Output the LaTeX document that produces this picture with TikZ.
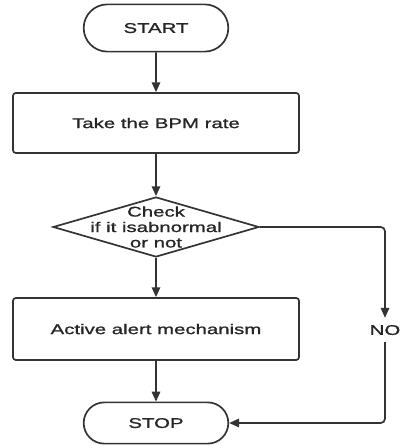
\documentclass[tikz,border=0pt]{standalone}
\usepackage{fontspec}
\setmainfont[FakeStretch=1.45, FakeBold=1.2]{Liberation Sans}
\usetikzlibrary{arrows.meta,shapes.geometric,shapes.misc}

\begin{document}
\begin{tikzpicture}[
            every node/.style={text depth=0pt, font=\fontsize{10}{11}\selectfont, text=black!85},
            line/.style={line width=1.2pt, draw=black!80},
            arrow/.style={line, -{Triangle[length=7pt,width=6pt]}},
            terminal/.style={rounded rectangle, line, minimum width=3.85cm},
            process/.style={line, rounded corners=2pt, minimum width=7.15cm, minimum height=1.5cm},
            decision/.style={diamond, line, minimum width=5.15cm, minimum height=1.5cm, inner sep=0pt},
            ]
        \useasboundingbox (0,0) rectangle (10,-11.125);

        \node[terminal, minimum height=1.18cm] (start) at (3.9,-0.7) {START};
        \node[process] (bpm) at (3.9,-3.075) {Take the BPM rate};
        \node[decision, label={[align=center, text depth=]center:Check\\if it isabnormal\\or not}] (check) at (3.9,-5.675) {};
        \node[process, minimum height=1.55cm] (alert) at (3.9,-8.225) {Active alert mechanism};
        \node[terminal, minimum height=1.03cm] (stop) at (3.9,-10.575) {STOP};
        \node[inner xsep=0pt, inner ysep=5pt] (no) at (9.625,-8.25) {NO};

        \draw[arrow] (start) -- (bpm);
        \draw[arrow] (bpm) -- (check);
        \draw[arrow] (check) -- (alert);
        \draw[arrow] (alert) -- (stop);
        \draw[arrow, rounded corners=3pt] (check.east) -| (no.north);
        \draw[arrow, rounded corners=3pt] (no.south) |- (stop.east);
    \end{tikzpicture}
\end{document}
